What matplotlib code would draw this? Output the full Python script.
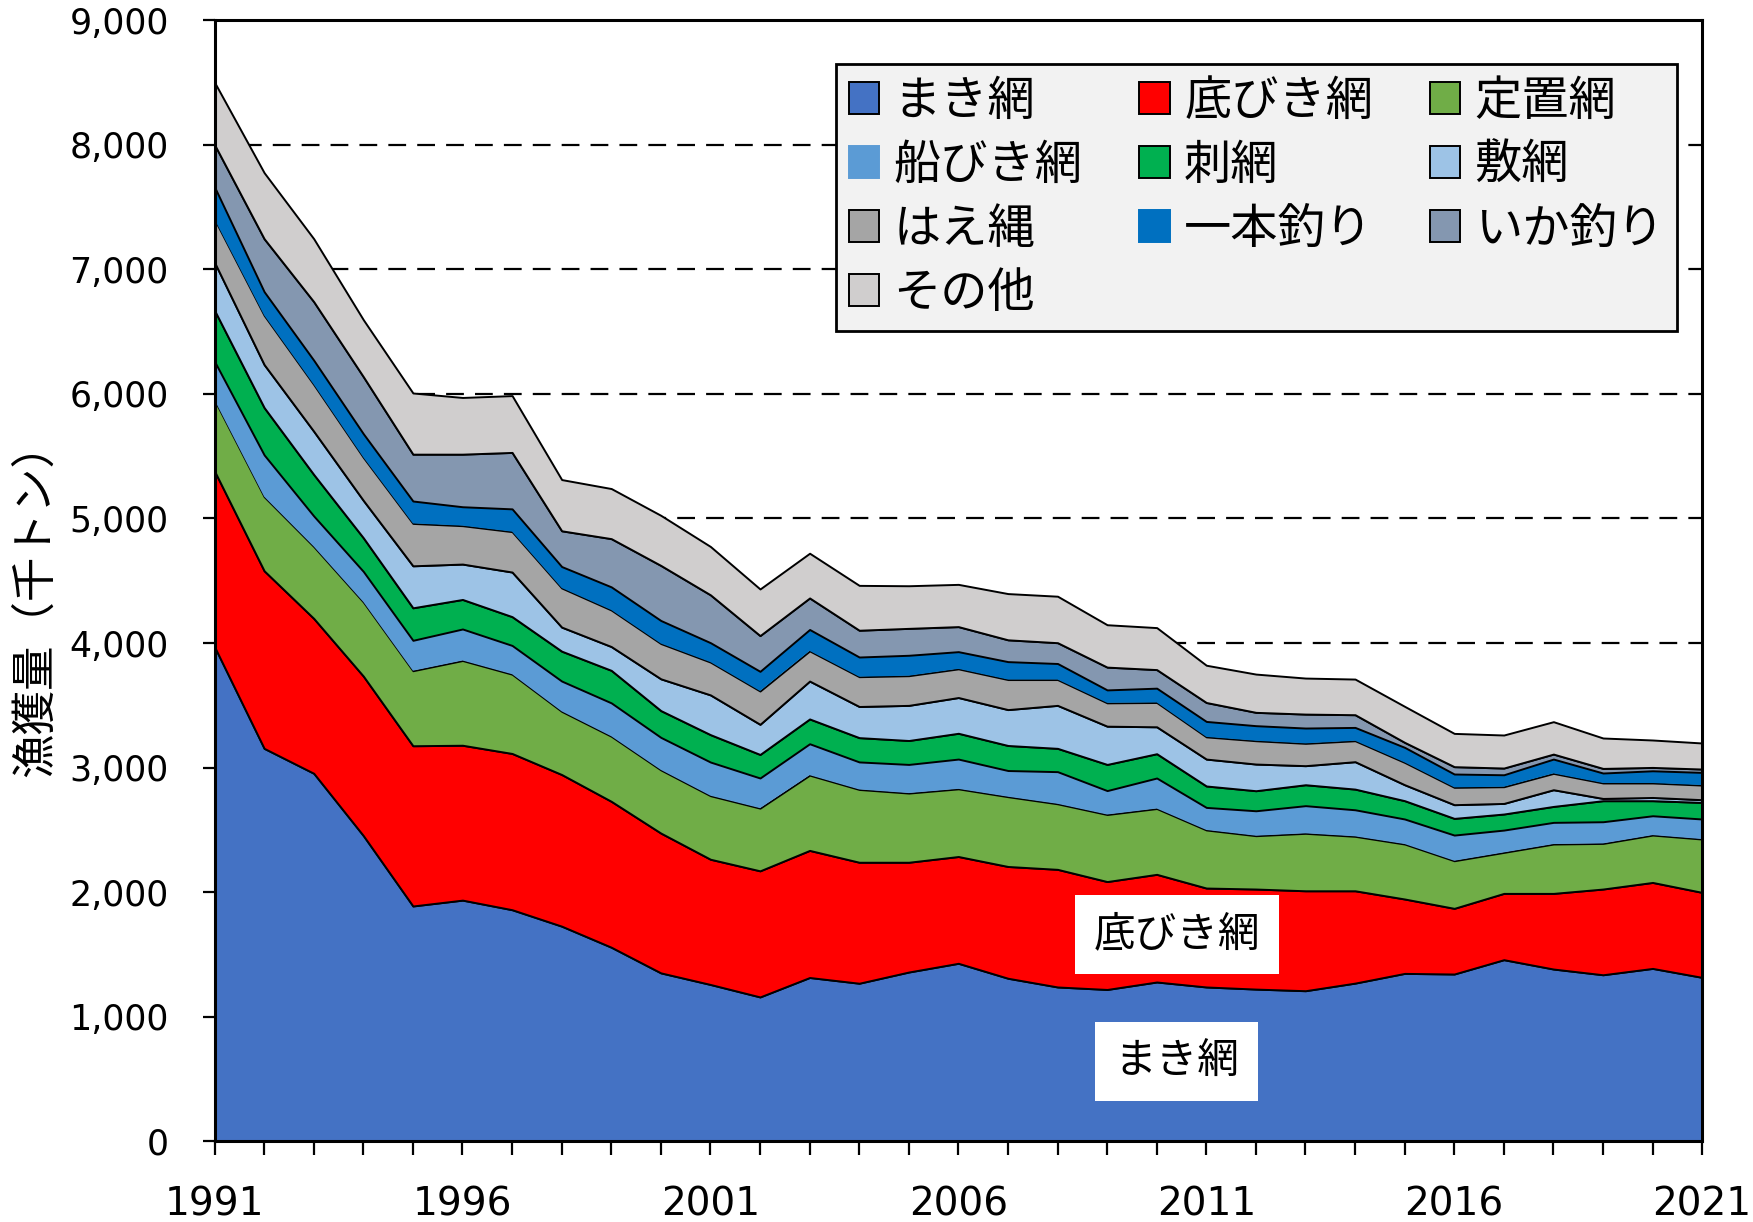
import matplotlib.pyplot as plt
from matplotlib.patches import Patch
import numpy as np

plt.rcParams['font.family'] = ['DejaVu Sans', 'Noto Sans CJK JP']
JP = ['Noto Sans CJK JP', 'DejaVu Sans']

years = np.arange(1991, 2022)

# 漁業種類別漁獲量 (千トン)
makiami = [3970, 3155, 2955, 2455, 1890, 1937, 1860, 1728, 1559, 1353, 1260, 1160, 1316, 1270, 1360, 1430,
           1310, 1240, 1220, 1280, 1240, 1223, 1210, 1271, 1349, 1344, 1459, 1384, 1338, 1389, 1317]
sokobiki = [1410, 1425, 1243, 1280, 1286, 1243, 1254, 1217, 1171, 1122, 1005, 1012, 1020, 971, 881, 857,
            897, 944, 866, 864, 794, 803, 802, 741, 597, 527, 532, 607, 688, 690, 682]
teichi = [570, 595, 577, 595, 602, 680, 636, 507, 522, 507, 510, 503, 604, 584, 555, 543,
          560, 526, 538, 528, 466, 428, 461, 437, 441, 382, 329, 396, 366, 380, 428]
funabiki = [310, 335, 245, 245, 244, 253, 231, 243, 268, 261, 270, 242, 252, 221, 230, 239,
            210, 258, 192, 245, 181, 200, 222, 213, 201, 206, 179, 174, 174, 155, 161]
sashiami = [410, 380, 333, 270, 261, 237, 231, 240, 261, 215, 220, 189, 199, 195, 192, 207,
            201, 187, 210, 195, 172, 161, 168, 166, 147, 134, 129, 128, 169, 121, 133]
shikiami = [385, 345, 347, 300, 337, 284, 358, 193, 191, 255, 319, 242, 304, 250, 282, 287,
            288, 345, 307, 216, 216, 214, 153, 220, 128, 110, 85, 134, 18, 26, 22]
haenawa = [345, 395, 375, 345, 340, 308, 324, 314, 293, 283, 263, 267, 242, 239, 238, 230,
           241, 207, 187, 195, 178, 187, 179, 168, 179, 139, 134, 131, 124, 116, 117]
ipponzuri = [260, 190, 195, 190, 180, 152, 183, 172, 186, 185, 156, 158, 172, 158, 164, 138,
             144, 129, 104, 115, 124, 121, 123, 107, 121, 107, 96, 115, 80, 98, 102]
ikazuri = [340, 425, 470, 458, 376, 422, 453, 287, 387, 442, 384, 287, 253, 215, 216, 201,
           175, 167, 183, 149, 152, 107, 112, 102, 40, 59, 54, 40, 37, 27, 27]
sonota = [500, 530, 505, 457, 491, 455, 456, 411, 402, 402, 388, 374, 359, 360, 342, 339,
          371, 373, 340, 337, 299, 307, 289, 286, 289, 267, 265, 260, 244, 220, 209]

labels = ['まき網', '底びき網', '定置網', '船びき網', '刺網', '敷網', 'はえ縄', '一本釣り', 'いか釣り', 'その他']
colors = ['#4472C4', '#FF0000', '#70AD47', '#5B9BD5', '#00B050', '#9DC3E6',
          '#A5A5A5', '#0070C0', '#8497B0', '#D0CECE']
outlined = [True, True, True, False, True, True, True, False, True, True]
series = [makiami, sokobiki, teichi, funabiki, sashiami, shikiami, haenawa, ipponzuri, ikazuri, sonota]

fig = plt.figure(figsize=(17.53, 12.22), dpi=100)
ax = fig.add_axes([0.1224, 0.0659, 0.8486, 0.9177])

polys = ax.stackplot(years, *series, colors=colors)
for p, edge in zip(polys, outlined):
    if edge:
        p.set_edgecolor('black')
        p.set_linewidth(1.4)
    else:
        p.set_edgecolor('none')

ax.set_xlim(1991, 2021)
ax.set_ylim(0, 9000)
ax.set_xticks(years)
ax.set_xticklabels([str(y) if (y - 1991) % 5 == 0 else '' for y in years])
ax.set_yticks(np.arange(0, 9001, 1000))
ax.set_yticklabels([f'{v:,}' for v in range(0, 9001, 1000)])
ax.tick_params(axis='y', labelsize=25, length=9, width=1.6, pad=24)
ax.tick_params(axis='x', labelsize=28, length=10, width=1.6, pad=22)

ax.set_axisbelow(True)
ax.yaxis.grid(True, color='black', linestyle=(0, (8, 5)), linewidth=1.6)
for s in ax.spines.values():
    s.set_linewidth(2.2)
    s.set_zorder(5)

ax.set_ylabel('漁獲量（千トン）', family=JP, fontsize=32)
ax.yaxis.set_label_coords(-0.105, 0.484)

# 凡例 (行方向に並べる)
order = [0, 3, 6, 9, 1, 4, 7, 2, 5, 8]
handles = [Patch(facecolor=colors[i], edgecolor='black' if outlined[i] else colors[i],
                 linewidth=1.4) for i in order]
leg = ax.legend(handles, [labels[i] for i in order], ncol=3, loc='upper right',
                bbox_to_anchor=(0.983, 0.961), borderaxespad=0,
                prop={'family': JP, 'size': 34}, frameon=True, fancybox=False,
                handlelength=0.65, handleheight=0.65, handletextpad=0.3,
                columnspacing=1.2, labelspacing=0.33, borderpad=0.28)
leg.get_frame().set_facecolor('#F2F2F2')
leg.get_frame().set_edgecolor('black')
leg.get_frame().set_linewidth(2)
leg.get_frame().set_alpha(1)
leg.set_zorder(6)

box = dict(boxstyle='square,pad=0.45', facecolor='white', edgecolor='none')
ax.text(2010.4, 1660, '底びき網', family=JP, fontsize=30, ha='center', va='center', bbox=box, zorder=7)
ax.text(2010.4, 640, 'まき網', family=JP, fontsize=30, ha='center', va='center', bbox=box, zorder=7)

fig.savefig('out.png', dpi=100)
